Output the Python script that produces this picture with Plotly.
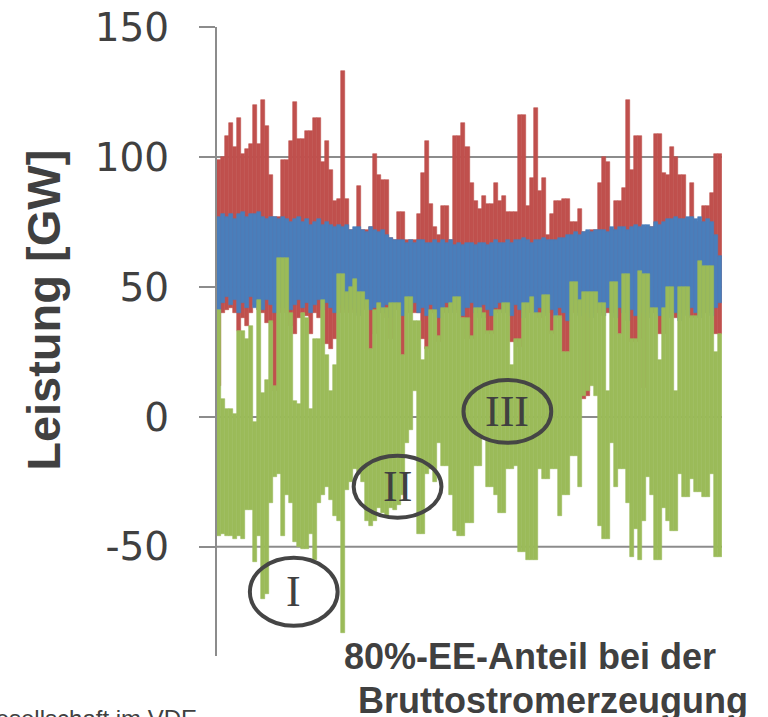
import plotly.graph_objects as go

# ---- data: per-column envelopes (GW), 126 columns across the year ----
red_top = [99,100,108,113,104,115,101,103,105,120,105,122,112,93,77,77,99,99,106,121,
           107,107,110,110,115,115,98,106,95,83,84,133,84,72,72,89,72,72,73,101,
           93,91,91,69,68,79,79,68,68,68,78,94,106,82,73,70,81,81,68,108,
           108,113,104,90,83,80,85,82,82,90,83,85,79,79,79,116,116,81,92,119,
           87,92,70,78,83,83,84,84,75,75,80,71,71,72,72,90,100,98,72,83,
           83,88,122,95,108,108,73,73,73,109,109,94,93,104,100,93,93,76,90,75,
           75,81,81,86,101,101]
red_bot = [12,40,41,42,40,33,38,35,40,43,41,40,36,36,10,40,42,40,35,32,
           38,40,39,32,40,38,42,28,26,30,40,42,40,41,40,40,41,42,26,32,
           40,40,38,30,41,41,24,40,40,40,40,30,26,40,40,29,40,40,41,41,
           40,38,30,30,40,40,38,32,32,40,40,41,40,29,29,27,40,40,41,40,
           38,40,40,32,40,38,25,25,40,40,40,7,8,40,40,40,40,40,40,41,
           32,40,40,29,29,30,11,40,40,40,32,32,40,40,38,40,41,42,38,38,
           40,40,40,40,32,32]
blue_top = [77,78,77,78,76,78,79,77,78,78, 79,77,76,77,77,76,77,76,75,76,
            77,75,76,74,75,76,74,75,74,73, 74,73,74,72,73,73,72,71,73,72,
            71,72,70,69,68,68,68,67,68,67, 68,68,67,67,68,67,68,67,68,66,
            67,66,67,67,66,67,67,66,67,68, 67,67,68,67,68,68,69,68,67,68,
            68,69,68,68,68,69,69,70,70,71, 70,71,72,71,72,72,72,71,73,72,
            73,73,72,73,74,73,74,74,73,75, 74,75,76,76,77,76,76,77,77,76,
            77,75,76,75,70,62]
blue_bot = [40,44,46,43,45,40,44,42,46,42, 44,41,45,43,40,44,42,45,41,43,
            45,42,44,40,43,45,41,44,42,40, 43,45,41,44,42,39,43,45,41,42,
            44,40,43,38,42,44,39,43,41,44, 40,42,39,43,41,38,42,44,40,43,
            41,39,42,44,40,38,43,41,39,42, 44,40,42,39,43,41,38,42,44,40,
            42,39,43,41,38,42,40,37,43,41, 39,42,40,38,43,41,39,42,40,38,
            42,40,37,41,39,43,40,38,42,40, 39,41,38,42,40,37,41,39,42,40,
            38,41,40,39,42,44]
green_top = [41,7,3,3,1,33,33,30,35,-2,45,9,14,37,12,61,61,61,40,6,
             5,40,38,3,30,30,45,24,10,20,55,55,48,50,53,48,48,45,26,41,
             44,42,42,44,44,44,24,46,46,37,37,22,27,41,41,31,42,42,44,46,
             46,38,38,31,42,42,40,33,33,41,41,44,44,20,30,30,44,44,46,40,
             40,47,47,33,39,39,25,25,52,52,45,48,48,48,48,44,44,10,52,52,
             32,55,55,30,30,56,55,55,42,42,22,42,50,50,10,50,50,50,39,39,
             60,58,58,58,25,32]
green_bot = [-46,-45,-46,-46,-47,-46,-47,-36,-36,-56,-46,-70,-68,-33,-23,-22,-46,-30,-33,-48,
             -50,-51,-51,-45,-55,-33,-30,-27,-32,-38,-40,-83,-28,-25,-20,-22,-25,-40,-42,-40,
             -35,-37,-38,-35,-36,-34,-30,-10,-5,10,-45,-45,-22,-20,-25,-10,-19,-19,-30,-44,
             -46,-46,-41,-41,-19,-19,-8,-27,-27,-30,-37,-37,-20,-20,-19,-52,-52,-55,-55,-55,
             -20,-24,-24,-20,-20,-38,-30,-30,-15,-15,-27,8,10,12,8,-42,-47,-47,-10,-27,
             -20,-20,-33,-54,-43,-55,-40,-23,-30,-55,-55,-35,-40,-44,-44,-22,-31,-31,-24,-29,
             -29,-31,-31,-22,-54,-54]
y_ticks = [150, 100, 50, 0, -50]
y_tick_text = ["150", "100", "50", "0", "-50"]
grid_vals = [100, 50, 0, -50]

# annotation ellipses (data coords): label, x0, x1, y0, y1
regions = [("I", 7.7, 29.6, -54.2, -80.4),
           ("II", 33.6, 55.5, -15.0, -38.8),
           ("III", 61.0, 82.9, 14.2, -10.0)]

RED, BLUE, GREEN = "#C0504D", "#4A7EBB", "#9BBB59"
TXT = "#404040"
n = len(red_top)
xs = list(range(n))

fig = go.Figure()
for top, bot, col in [(red_top, red_bot, RED), (blue_top, blue_bot, BLUE), (green_top, green_bot, GREEN)]:
    fig.add_trace(go.Bar(x=xs, y=[t - b for t, b in zip(top, bot)], base=bot,
                         marker=dict(color=col, line=dict(color=col, width=0.6)),
                         width=1.0, hoverinfo="skip", showlegend=False))

for g in grid_vals:
    fig.add_shape(type="line", xref="paper", yref="y", x0=0, x1=1, y0=g, y1=g,
                  line=dict(color="#8C8C8C", width=2), layer="below")

for lab, x0, x1, y0, y1 in regions:
    fig.add_shape(type="circle", xref="x", yref="y", x0=x0, x1=x1, y0=y0, y1=y1,
                  line=dict(color="#454545", width=4), fillcolor="rgba(0,0,0,0)")
    fig.add_annotation(x=(x0 + x1) / 2, y=(y0 + y1) / 2, xref="x", yref="y", text=lab,
                       showarrow=False, font=dict(family="Liberation Serif", size=44, color=TXT))

fig.add_annotation(text="<b>Leistung [GW]</b>", xref="paper", yref="paper", x=-0.345, y=0.55,
                   xanchor="center", yanchor="middle", textangle=-90, showarrow=False,
                   font=dict(family="Liberation Sans", size=47, color=TXT))
fig.add_annotation(text="<b>80%-EE-Anteil bei der</b>", xref="paper", yref="paper", x=0.62, y=0.0,
                   xanchor="center", yanchor="middle", showarrow=False,
                   font=dict(family="Liberation Sans", size=36, color=TXT))
fig.add_annotation(text="<b>Bruttostromerzeugung</b>", xref="paper", yref="paper", x=0.665, y=-0.071,
                   xanchor="center", yanchor="middle", showarrow=False,
                   font=dict(family="Liberation Sans", size=36, color=TXT))
fig.add_annotation(text="Gesellschaft im VDE", xref="paper", yref="paper", x=-0.035, y=-0.075,
                   xanchor="right", yanchor="top", showarrow=False,
                   font=dict(family="Liberation Sans", size=24, color=TXT))

fig.update_layout(
    width=768, height=717, margin=dict(l=217, r=46, t=27, b=61),
    paper_bgcolor="white", plot_bgcolor="white",
    barmode="overlay", bargap=0,
    xaxis=dict(range=[-0.5, n - 0.5], showticklabels=False, showgrid=False,
               zeroline=False, showline=False, ticks="", automargin=False),
    yaxis=dict(range=[-92, 150], tickvals=y_ticks, ticktext=y_tick_text,
               showgrid=False, zeroline=False, automargin=False,
               showline=True, linecolor="#8C8C8C", linewidth=2,
               ticks="outside", ticklen=16, tickcolor="#8C8C8C", tickwidth=2,
               ticklabelstandoff=22,
               tickfont=dict(family="DejaVu Sans", size=39, color=TXT)),
)
fig.write_html("out.html", config={"displayModeBar": False},
               post_script="document.body.style.margin='0px';")
